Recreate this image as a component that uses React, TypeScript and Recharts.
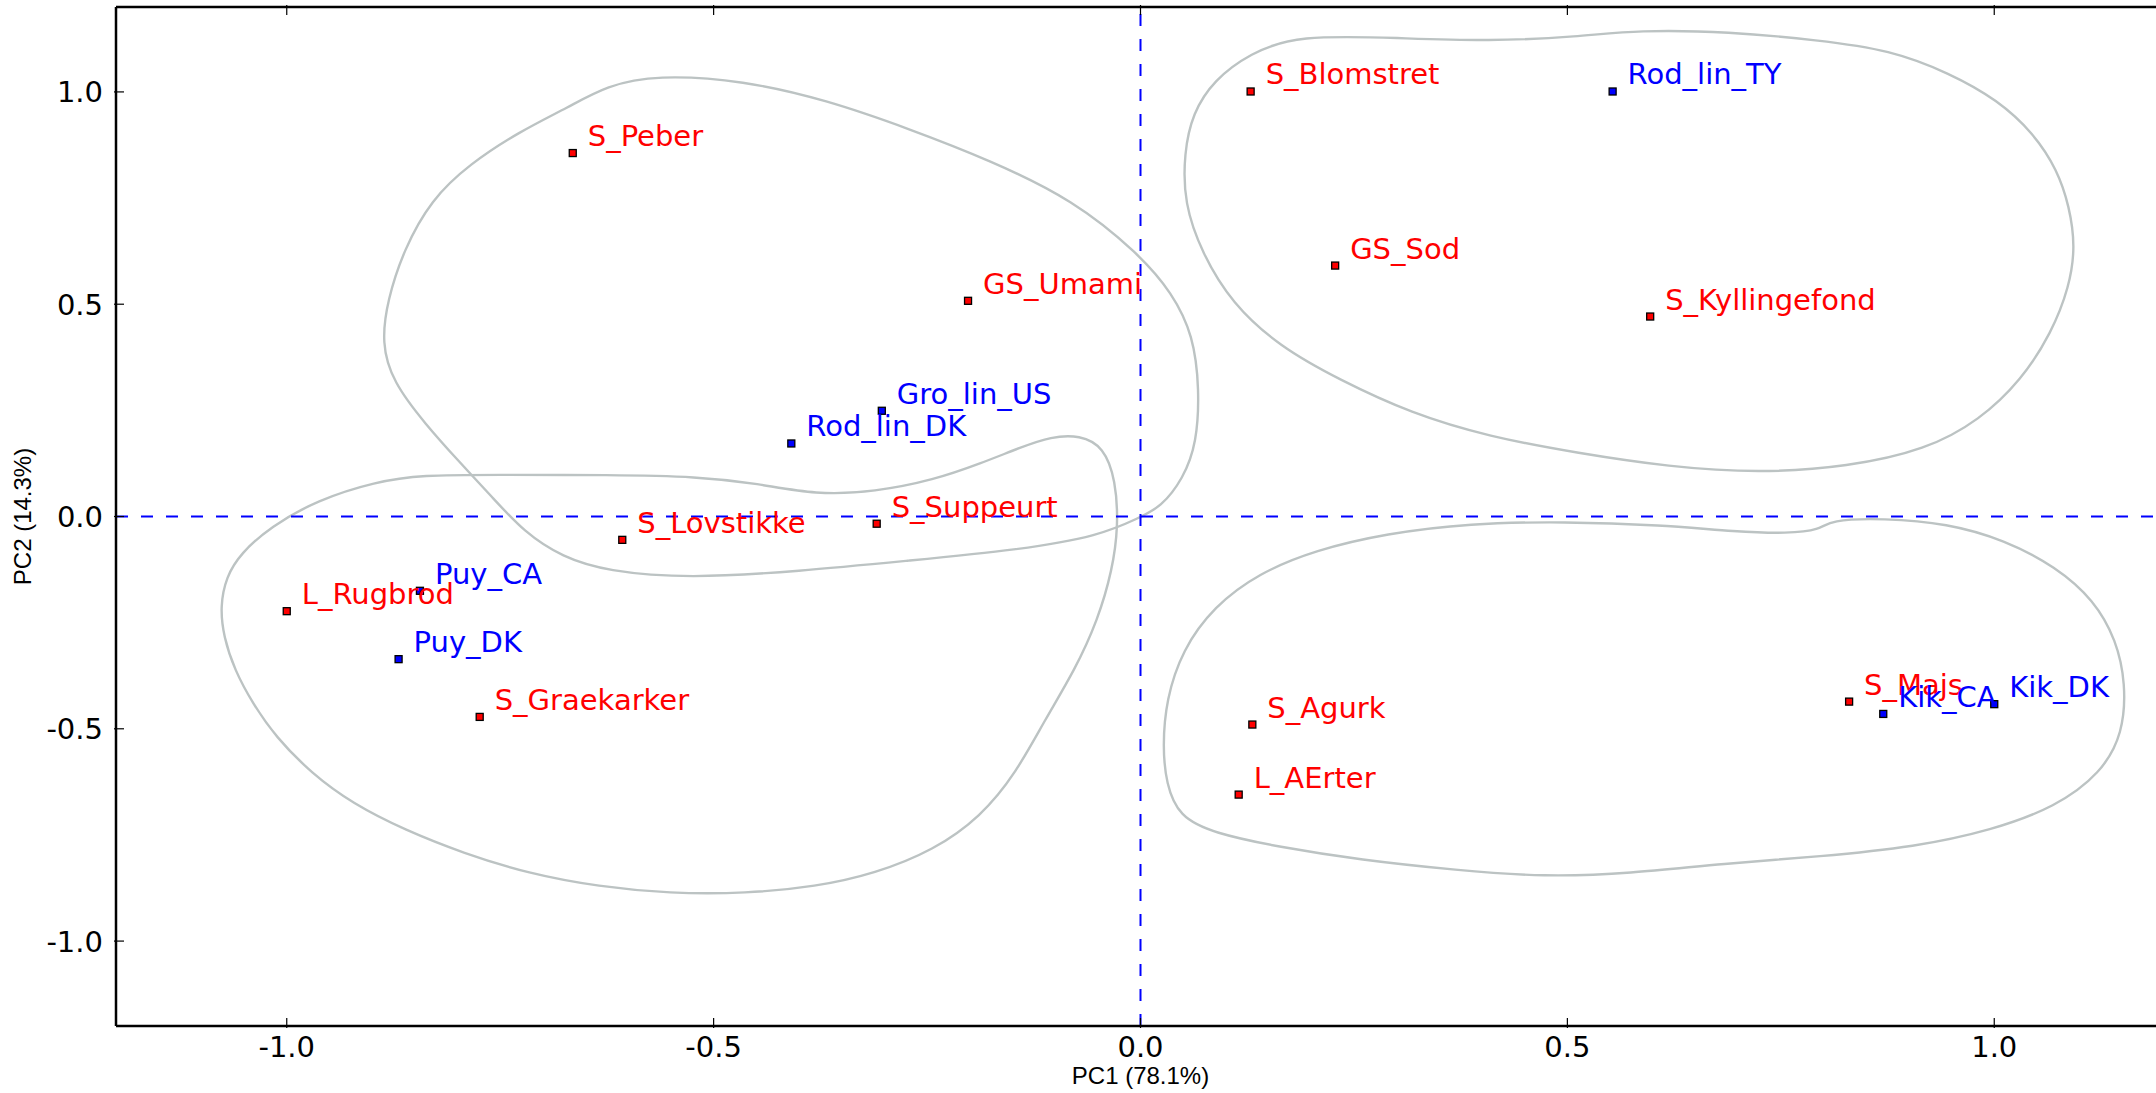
import React from 'react'
import { ComposedChart, Line, Scatter, XAxis, YAxis, ReferenceLine, Label } from 'recharts'

// sample scores (PC1, PC2)
const redNames = ['S_Peber', 'S_Blomstret', 'GS_Sod', 'S_Kyllingefond', 'GS_Umami', 'S_Suppeurt', 'S_Lovstikke', 'L_Rugbrod', 'S_Graekarker', 'S_Agurk', 'L_AErter', 'S_Majs']
const redPC1 = [-0.665, 0.129, 0.228, 0.597, -0.202, -0.309, -0.607, -1.0, -0.774, 0.131, 0.115, 0.83]
const redPC2 = [0.856, 1.001, 0.591, 0.471, 0.508, -0.017, -0.055, -0.223, -0.472, -0.49, -0.655, -0.436]

const blueNames = ['Rod_lin_TY', 'Gro_lin_US', 'Rod_lin_DK', 'Puy_CA', 'Puy_DK', 'Kik_CA', 'Kik_DK']
const bluePC1 = [0.553, -0.303, -0.409, -0.844, -0.869, 0.87, 1.0]
const bluePC2 = [1.001, 0.249, 0.172, -0.175, -0.336, -0.465, -0.442]

const ticks = [-1.0, -0.5, 0.0, 0.5, 1.0]

// hand drawn group outlines, in data units
const loopUpperLeft = [
  [-0.567, 1.04], [-0.465, 1.027], [-0.368, 0.981], [-0.272, 0.914], [-0.175, 0.838], [-0.079, 0.746],
  [-0.002, 0.619], [0.037, 0.527], [0.062, 0.426], [0.069, 0.3], [0.066, 0.173], [0.05, 0.089],
  [0.024, 0.022], [-0.002, -0.003], [-0.047, -0.045], [-0.143, -0.079], [-0.272, -0.104], [-0.4, -0.129],
  [-0.529, -0.146], [-0.625, -0.129], [-0.677, -0.096], [-0.722, -0.037], [-0.76, 0.047], [-0.799, 0.131],
  [-0.837, 0.216], [-0.876, 0.317], [-0.889, 0.409], [-0.882, 0.51], [-0.863, 0.628], [-0.831, 0.746],
  [-0.786, 0.83], [-0.728, 0.906], [-0.67, 0.964], [-0.625, 1.015],
]
const loopLowerLeft = [
  [-1.078, -0.212], [-1.074, -0.283], [-1.061, -0.362], [-1.04, -0.44], [-1.013, -0.519], [-0.971, -0.605],
  [-0.923, -0.676], [-0.861, -0.739], [-0.793, -0.793], [-0.717, -0.841], [-0.634, -0.872], [-0.552, -0.888],
  [-0.462, -0.888], [-0.38, -0.872], [-0.311, -0.841], [-0.242, -0.786], [-0.187, -0.707], [-0.146, -0.605],
  [-0.112, -0.479], [-0.077, -0.362], [-0.05, -0.244], [-0.033, -0.126], [-0.026, -0.024], [-0.029, 0.086],
  [-0.043, 0.164], [-0.071, 0.192], [-0.105, 0.188], [-0.139, 0.164], [-0.187, 0.125], [-0.242, 0.086],
  [-0.311, 0.058], [-0.38, 0.051], [-0.449, 0.078], [-0.518, 0.094], [-0.621, 0.098], [-0.758, 0.098],
  [-0.841, 0.098], [-0.896, 0.082], [-0.964, 0.039], [-1.019, -0.024], [-1.054, -0.087], [-1.071, -0.142],
]
const loopUpperRight = [
  [0.184, 1.134], [0.303, 1.127], [0.408, 1.119], [0.513, 1.13], [0.583, 1.146], [0.689, 1.142],
  [0.794, 1.122], [0.878, 1.099], [0.948, 1.044], [1.004, 0.981], [1.046, 0.903], [1.074, 0.816],
  [1.088, 0.73], [1.095, 0.636], [1.088, 0.541], [1.067, 0.432], [1.032, 0.322], [0.983, 0.227],
  [0.92, 0.157], [0.829, 0.117], [0.724, 0.102], [0.619, 0.117], [0.513, 0.149], [0.408, 0.188],
  [0.317, 0.243], [0.233, 0.322], [0.163, 0.4], [0.107, 0.502], [0.072, 0.62], [0.051, 0.738],
  [0.051, 0.856], [0.061, 0.95], [0.086, 1.028], [0.128, 1.091],
]
const loopLowerRight = [
  [0.026, -0.542], [0.03, -0.432], [0.049, -0.314], [0.086, -0.212], [0.138, -0.134], [0.205, -0.079],
  [0.288, -0.04], [0.385, -0.016], [0.497, -0.012], [0.609, -0.02], [0.699, -0.036], [0.758, -0.04],
  [0.796, -0.032], [0.807, -0.008], [0.87, -0.004], [0.945, -0.016], [1.012, -0.055], [1.072, -0.118],
  [1.117, -0.197], [1.143, -0.291], [1.154, -0.393], [1.151, -0.511], [1.125, -0.605], [1.072, -0.684],
  [0.997, -0.739], [0.908, -0.778], [0.796, -0.801], [0.684, -0.817], [0.572, -0.841], [0.474, -0.849],
  [0.37, -0.833], [0.258, -0.809], [0.161, -0.778], [0.086, -0.746], [0.045, -0.707], [0.03, -0.629],
]

const RED = '#ff0000'
const BLUE = '#0000ff'
const FONT = '"DejaVu Sans", sans-serif'
const LABEL_FONT = '"Liberation Sans", Arial, sans-serif'

const redPoints = redNames.map((name, i) => ({ name, x: redPC1[i], y: redPC2[i], color: RED }))
const bluePoints = bluePC1.map((x, i) => ({ name: blueNames[i], x, y: bluePC2[i], color: BLUE }))
const allPoints = [...redPoints, ...bluePoints]
const loops = [loopUpperLeft, loopLowerLeft, loopUpperRight, loopLowerRight].map(l => l.map(([x, y]) => ({ x, y })))

const Marker = (props: any) => {
  const { cx, cy, payload } = props
  return <rect x={cx - 3.5} y={cy - 3.5} width={7} height={7} fill={payload.color} stroke="#000" strokeWidth={1.3} />
}

const PointLabel = (props: any) => {
  const { cx, cy, payload } = props
  return (
    <text x={cx + 15} y={cy - 7} fill={payload.color} fontSize={29} fontFamily={FONT}>
      {payload.name}
    </text>
  )
}

const BottomTick = ({ x, y, payload }: any) => (
  <g>
    <line x1={x} x2={x} y1={y} y2={y - 10} stroke="#000" strokeWidth={1.2} />
    <text x={x} y={y + 29} textAnchor="middle" fontSize={29} fontFamily={FONT} fill="#000">
      {Number(payload.value).toFixed(1)}
    </text>
  </g>
)

const LeftTick = ({ x, y, payload }: any) => (
  <g>
    <line x1={x} x2={x + 10} y1={y} y2={y} stroke="#000" strokeWidth={1.2} />
    <text x={x - 11} y={y + 10.5} textAnchor="end" fontSize={29} fontFamily={FONT} fill="#000">
      {Number(payload.value).toFixed(1)}
    </text>
  </g>
)

const TopTick = ({ x, y }: any) => <line x1={x} x2={x} y1={y} y2={y + 10} stroke="#000" strokeWidth={1.2} />
const RightTick = ({ x, y }: any) => <line x1={x} x2={x - 10} y1={y} y2={y} stroke="#000" strokeWidth={1.2} />

export default function App() {
  const axisLine = { stroke: '#000', strokeWidth: 2.5 }
  return (
    <div style={{ position: 'absolute', left: 0, top: 0, width: 2156, height: 1093, overflow: 'hidden', background: '#fff' }}>
      <ComposedChart width={2200} height={1093} margin={{ top: 6, right: 34, bottom: 0, left: 0 }}>
        <XAxis
          type="number"
          dataKey="x"
          domain={[-1.2, 1.2]}
          ticks={ticks}
          allowDataOverflow
          height={67}
          tickSize={0}
          tickLine={false}
          axisLine={axisLine}
          tick={<BottomTick />}
        >
          <Label
            content={({ viewBox }: any) => (
              <text x={viewBox.x + viewBox.width / 2} y={viewBox.y + 58} textAnchor="middle" fontSize={24} fontFamily={LABEL_FONT} fill="#000">
                PC1 (78.1%)
              </text>
            )}
          />
        </XAxis>
        <XAxis
          xAxisId="top"
          orientation="top"
          type="number"
          dataKey="x"
          domain={[-1.2, 1.2]}
          ticks={ticks}
          allowDataOverflow
          height={1}
          tickSize={0}
          tickLine={false}
          axisLine={axisLine}
          tick={<TopTick />}
        />
        <YAxis
          type="number"
          dataKey="y"
          domain={[-1.2, 1.2]}
          ticks={ticks}
          allowDataOverflow
          width={116}
          tickSize={0}
          tickLine={false}
          axisLine={axisLine}
          tick={<LeftTick />}
        >
          <Label
            content={({ viewBox }: any) => {
              const cy = viewBox.y + viewBox.height / 2
              return (
                <text x={31} y={cy} transform={`rotate(-90, 31, ${cy})`} textAnchor="middle" fontSize={24} fontFamily={LABEL_FONT} fill="#000">
                  PC2 (14.3%)
                </text>
              )
            }}
          />
        </YAxis>
        <YAxis
          yAxisId="right"
          orientation="right"
          type="number"
          domain={[-1.2, 1.2]}
          ticks={ticks}
          allowDataOverflow
          width={1}
          tickSize={0}
          tickLine={false}
          axisLine={axisLine}
          tick={<RightTick />}
        />

        {loops.map((loop, i) => (
          <Line
            key={i}
            data={loop}
            dataKey="y"
            type="basisClosed"
            stroke="#bcc3c3"
            strokeWidth={2.4}
            dot={false}
            activeDot={false}
            legendType="none"
            isAnimationActive={false}
          />
        ))}

        <ReferenceLine x={0} stroke={BLUE} strokeWidth={2} strokeDasharray="12 13" />
        <ReferenceLine y={0} stroke={BLUE} strokeWidth={2} strokeDasharray="12 13" />

        <Scatter data={allPoints} dataKey="y" shape={<Marker />} isAnimationActive={false} />
        <Scatter data={allPoints} dataKey="y" shape={<PointLabel />} isAnimationActive={false} />
      </ComposedChart>
    </div>
  )
}
